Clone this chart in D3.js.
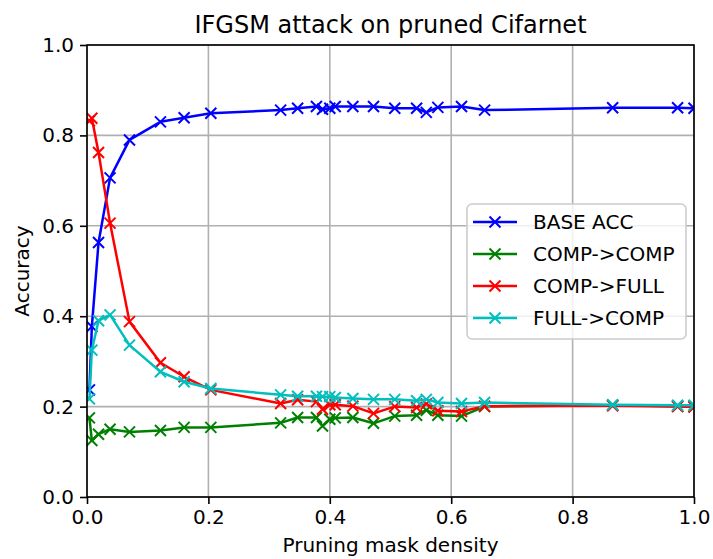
<!DOCTYPE html>
<html><head><meta charset="utf-8">
<script src="https://cdn.jsdelivr.net/npm/d3@7"></script>
<style>body{margin:0;background:#fff}svg{display:block}text{font-family:"DejaVu Sans",sans-serif}</style>
</head><body><svg id="c" width="713" height="559"></svg>
<script>
const density = [0.004,0.008,0.019,0.038,0.070,0.121,0.160,0.204,0.319,0.347,0.378,0.388,0.400,0.409,0.438,0.472,0.507,0.543,0.559,0.578,0.617,0.655,0.866,0.973,1.0];
const baseAcc  = [0.237,0.377,0.563,0.706,0.790,0.830,0.839,0.849,0.856,0.860,0.864,0.858,0.860,0.864,0.864,0.864,0.860,0.860,0.851,0.862,0.864,0.856,0.861,0.861,0.860];
const compComp = [0.175,0.125,0.139,0.150,0.144,0.147,0.154,0.154,0.164,0.176,0.176,0.157,0.172,0.175,0.176,0.163,0.179,0.181,0.192,0.181,0.179,0.200,0.203,0.201,0.200];
const compFull = [0.832,0.838,0.762,0.606,0.388,0.297,0.266,0.237,0.207,0.215,0.211,0.194,0.204,0.204,0.201,0.185,0.200,0.198,0.206,0.191,0.189,0.201,0.202,0.200,0.199];
const fullComp = [0.217,0.325,0.390,0.403,0.336,0.277,0.255,0.240,0.226,0.223,0.223,0.222,0.222,0.220,0.218,0.216,0.216,0.213,0.216,0.209,0.207,0.209,0.204,0.203,0.203];
const seriesNames = ["BASE ACC","COMP->COMP","COMP->FULL","FULL->COMP"];
const seriesColors = ["#0000ff","#008000","#ff0000","#00bfbf"];
const xTicks = [0,0.2,0.4,0.6,0.8,1.0];
const yTicks = [0,0.2,0.4,0.6,0.8,1.0];

const svg = d3.select("#c");
const L=87,R=694,T=45,B=497;
const x = d3.scaleLinear().domain([0,1]).range([L,R]);
const y = d3.scaleLinear().domain([0,1]).range([B,T]);
const series = [baseAcc,compComp,compFull,fullComp];

// grid
const g = svg.append("g");
g.selectAll(".gx").data(xTicks).enter().append("line")
 .attr("x1",d=>x(d)).attr("x2",d=>x(d)).attr("y1",T).attr("y2",B)
 .attr("stroke","#b0b0b0").attr("stroke-width",1.6);
g.selectAll(".gy").data(yTicks).enter().append("line")
 .attr("y1",d=>y(d)).attr("y2",d=>y(d)).attr("x1",L).attr("x2",R)
 .attr("stroke","#b0b0b0").attr("stroke-width",1.6);

// lines
svg.append("clipPath").attr("id","clip").append("rect").attr("x",L).attr("y",T).attr("width",R-L).attr("height",B-T);
const plot = svg.append("g").attr("clip-path","url(#clip)");
const line = d3.line().x((d,i)=>x(density[i])).y(d=>y(d));
const ms = 5.5;
series.forEach((s,k)=>{
  plot.append("path").datum(s).attr("d",line).attr("fill","none")
   .attr("stroke",seriesColors[k]).attr("stroke-width",2.5).attr("stroke-linejoin","round");
  plot.selectAll(".m"+k).data(s).enter().append("path")
   .attr("d",(d,i)=>{const cx=x(density[i]),cy=y(d);return `M${cx-ms},${cy-ms}L${cx+ms},${cy+ms}M${cx-ms},${cy+ms}L${cx+ms},${cy-ms}`;})
   .attr("stroke",seriesColors[k]).attr("stroke-width",2).attr("fill","none");
});

// axes
const xa = svg.append("g").attr("transform",`translate(0,${B})`)
 .call(d3.axisBottom(x).tickValues(xTicks).tickFormat(d3.format(".1f")).tickSize(7).tickPadding(6));
const ya = svg.append("g").attr("transform",`translate(${L},0)`)
 .call(d3.axisLeft(y).tickValues(yTicks).tickFormat(d3.format(".1f")).tickSize(7).tickPadding(6));
[xa,ya].forEach(a=>{a.select(".domain").remove();
 a.selectAll("line").attr("stroke","#000").attr("stroke-width",1.6);
 a.selectAll("text").attr("font-size",20).attr("fill","#000").attr("font-family","DejaVu Sans");});
svg.append("rect").attr("x",L).attr("y",T).attr("width",R-L).attr("height",B-T)
 .attr("fill","none").attr("stroke","#000").attr("stroke-width",1.6);

// labels
svg.append("text").attr("x",(L+R)/2).attr("y",33).attr("text-anchor","middle").attr("font-size",24).text("IFGSM attack on pruned Cifarnet");
svg.append("text").attr("x",(L+R)/2).attr("y",552).attr("text-anchor","middle").attr("font-size",20).text("Pruning mask density");
svg.append("text").attr("transform",`translate(29,${(T+B)/2}) rotate(-90)`).attr("text-anchor","middle").attr("font-size",20).text("Accuracy");

// legend
const lg = svg.append("g");
lg.append("rect").attr("x",467).attr("y",204).attr("width",219).attr("height",135).attr("rx",5)
 .attr("fill","#fff").attr("fill-opacity",0.8).attr("stroke","#cccccc").attr("stroke-width",1.6);
seriesNames.forEach((n,k)=>{
  const yy = 222 + k*32;
  lg.append("line").attr("x1",473).attr("x2",517).attr("y1",yy).attr("y2",yy).attr("stroke",seriesColors[k]).attr("stroke-width",2.5);
  lg.append("path").attr("d",`M${495-ms},${yy-ms}L${495+ms},${yy+ms}M${495-ms},${yy+ms}L${495+ms},${yy-ms}`).attr("stroke",seriesColors[k]).attr("stroke-width",2);
  lg.append("text").attr("x",533).attr("y",yy+7).attr("font-size",20).text(n);
});
</script></body></html>
